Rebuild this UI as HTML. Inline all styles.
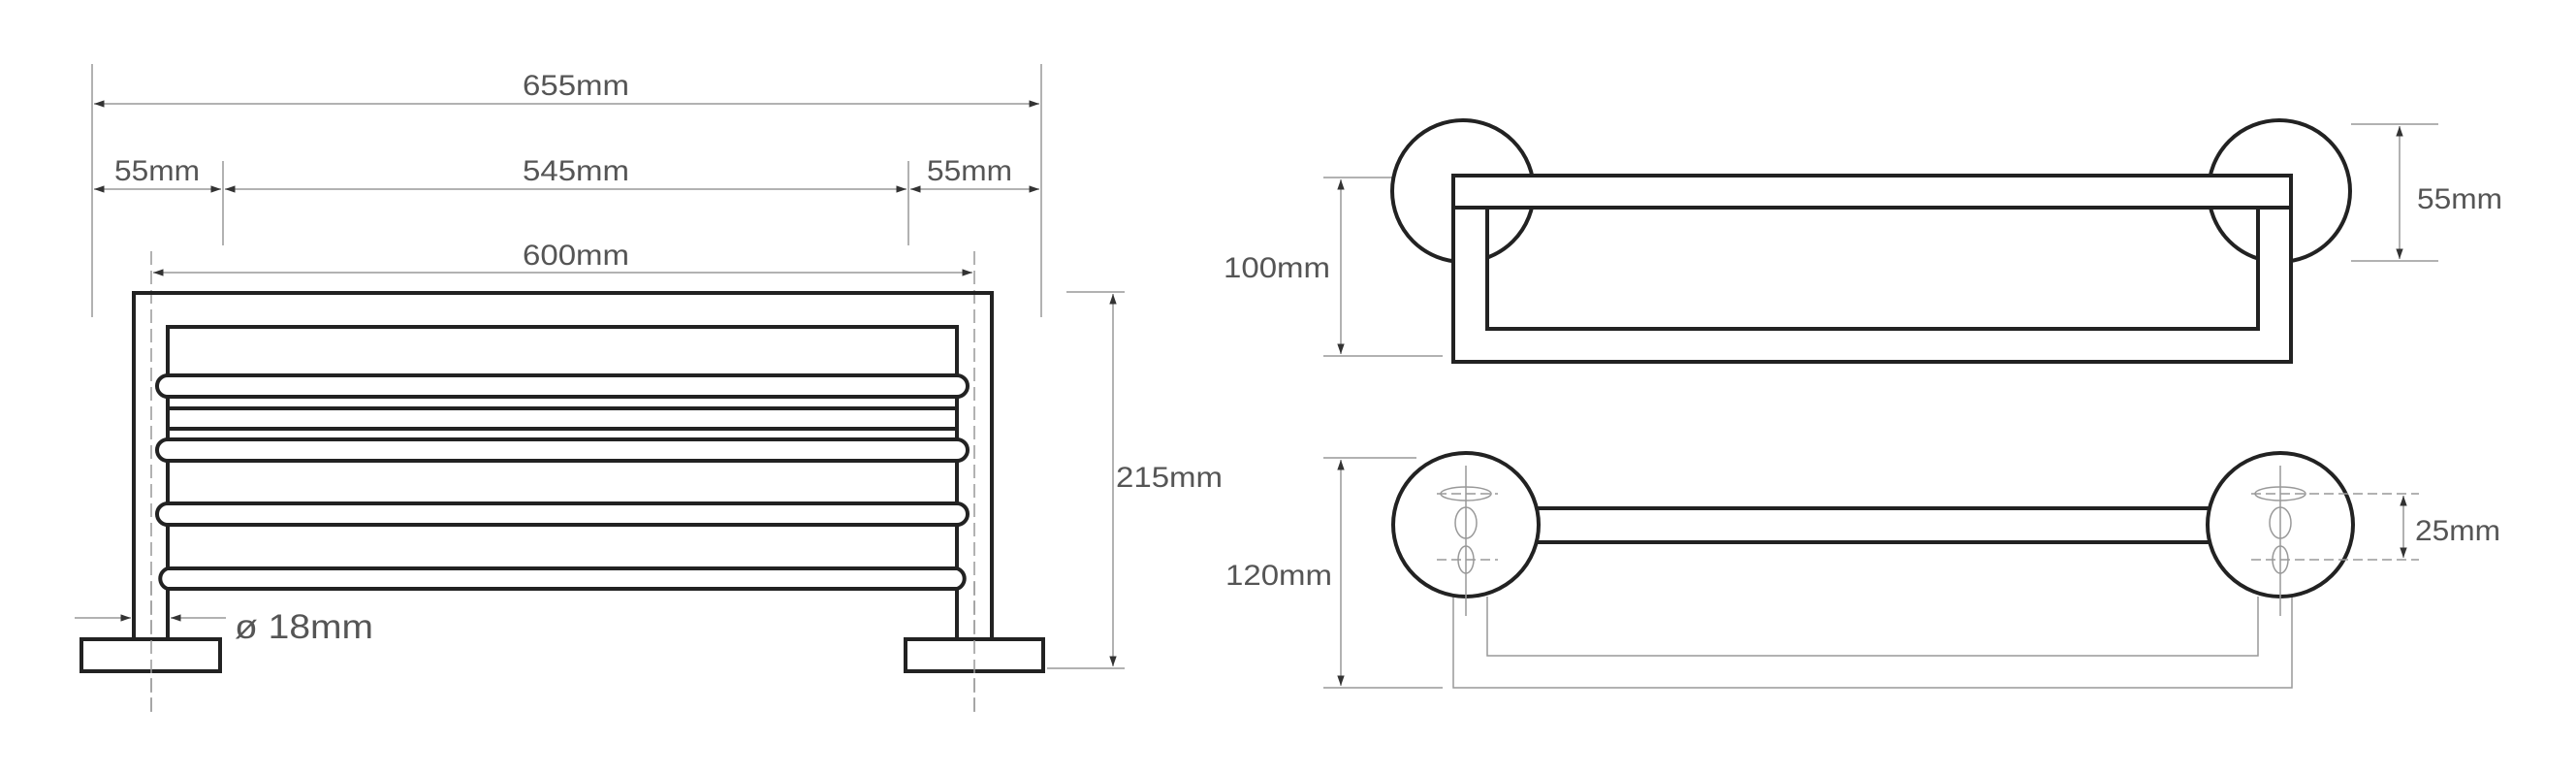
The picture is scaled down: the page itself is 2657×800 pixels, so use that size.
<!DOCTYPE html>
<html><head><meta charset="utf-8"><style>
html,body{margin:0;padding:0;background:#fff}
svg{display:block}
text{font-family:"Liberation Sans",sans-serif;fill:#555}
</style></head><body>
<svg width="2657" height="800" viewBox="0 0 2657 800" xmlns="http://www.w3.org/2000/svg">
<defs>
<marker id="a" viewBox="0 0 10 10" refX="10" refY="5" markerWidth="7" markerHeight="7" orient="auto-start-reverse"><path d="M0,1.5 L10,5 L0,8.5 z" fill="#333"/></marker>
</defs>
<g stroke="#999" stroke-width="1.5" fill="none">
<!-- left view dims -->
<line x1="95" y1="66" x2="95" y2="327"/>
<line x1="1074" y1="66" x2="1074" y2="327"/>
<line x1="230" y1="166" x2="230" y2="253"/>
<line x1="937" y1="166" x2="937" y2="253"/>
<line x1="97" y1="107" x2="1072" y2="107" marker-start="url(#a)" marker-end="url(#a)"/>
<line x1="97" y1="195" x2="228" y2="195" marker-start="url(#a)" marker-end="url(#a)"/>
<line x1="232" y1="195" x2="935" y2="195" marker-start="url(#a)" marker-end="url(#a)"/>
<line x1="939" y1="195" x2="1072" y2="195" marker-start="url(#a)" marker-end="url(#a)"/>
<line x1="158" y1="281" x2="1003" y2="281" marker-start="url(#a)" marker-end="url(#a)"/>
<line x1="156" y1="259" x2="156" y2="737" stroke-dasharray="14,6"/>
<line x1="1005" y1="259" x2="1005" y2="737" stroke-dasharray="14,6"/>
<line x1="1100" y1="301" x2="1160" y2="301"/>
<line x1="1080" y1="689" x2="1160" y2="689"/>
<line x1="1148" y1="303" x2="1148" y2="687" marker-start="url(#a)" marker-end="url(#a)"/>
<line x1="77" y1="637" x2="135" y2="637" marker-end="url(#a)"/>
<line x1="233" y1="637" x2="176" y2="637" marker-end="url(#a)"/>
</g>
<g font-size="30" text-anchor="middle">
<text x="594" y="98" textLength="110" lengthAdjust="spacingAndGlyphs">655mm</text>
<text x="162" y="186" textLength="88" lengthAdjust="spacingAndGlyphs">55mm</text>
<text x="594" y="186" textLength="110" lengthAdjust="spacingAndGlyphs">545mm</text>
<text x="1000" y="186" textLength="88" lengthAdjust="spacingAndGlyphs">55mm</text>
<text x="594" y="273" textLength="110" lengthAdjust="spacingAndGlyphs">600mm</text>
<text x="1206" y="502" textLength="110" lengthAdjust="spacingAndGlyphs">215mm</text>
<text x="1317" y="286" textLength="110" lengthAdjust="spacingAndGlyphs">100mm</text>
<text x="2537" y="215" textLength="88" lengthAdjust="spacingAndGlyphs">55mm</text>
<text x="1319" y="603" textLength="110" lengthAdjust="spacingAndGlyphs">120mm</text>
<text x="2535" y="557" textLength="88" lengthAdjust="spacingAndGlyphs">25mm</text>
</g>
<text x="242" y="658" font-size="35" textLength="143" lengthAdjust="spacingAndGlyphs">ø 18mm</text>

<!-- left front view -->
<g stroke="#222" stroke-width="4" fill="none" stroke-linejoin="miter">
<path d="M138,659 V302 H1023 V659"/>
<path d="M173,659 V337 H987 V659"/>
<rect x="173" y="421" width="814" height="21" fill="#fff"/>
<path d="M173,387 H987 A11,11 0 0 1 987,409 H173 A11,11 0 0 1 173,387 Z" fill="#fff"/>
<path d="M173,453 H987 A11,11 0 0 1 987,475 H173 A11,11 0 0 1 173,453 Z" fill="#fff"/>
<path d="M173,519 H987 A11,11 0 0 1 987,541 H173 A11,11 0 0 1 173,519 Z" fill="#fff"/>
<path d="M173,586 H987 A11,11 0 0 1 987,607 H173 A11,11 0 0 1 173,586 Z" fill="#fff"/>
<rect x="84" y="659" width="143" height="33" fill="#fff"/>
<rect x="934" y="659" width="142" height="33" fill="#fff"/>
</g>
<line x1="156" y1="600" x2="156" y2="737" stroke="#999" stroke-width="1.5" stroke-dasharray="14,6"/>
<line x1="1005" y1="600" x2="1005" y2="737" stroke="#999" stroke-width="1.5" stroke-dasharray="14,6"/>

<!-- right dims -->
<g stroke="#999" stroke-width="1.5" fill="none">
<line x1="1365" y1="183" x2="1440" y2="183"/>
<line x1="1365" y1="367" x2="1488" y2="367"/>
<line x1="1383" y1="185" x2="1383" y2="365" marker-start="url(#a)" marker-end="url(#a)"/>
<line x1="2425" y1="128" x2="2515" y2="128"/>
<line x1="2425" y1="269" x2="2515" y2="269"/>
<line x1="2475" y1="130" x2="2475" y2="267" marker-start="url(#a)" marker-end="url(#a)"/>
<line x1="1365" y1="472" x2="1461" y2="472"/>
<line x1="1365" y1="709" x2="1488" y2="709"/>
<line x1="1383" y1="474" x2="1383" y2="707" marker-start="url(#a)" marker-end="url(#a)"/>
<line x1="2479" y1="511" x2="2479" y2="575" marker-start="url(#a)" marker-end="url(#a)"/>
<path d="M1499,615 V709 H2364 V615"/>
<path d="M1534,615 V676 H2329 V615"/>
</g>

<!-- top view -->
<g stroke="#222" stroke-width="4">
<circle cx="1509" cy="197" r="73" fill="#fff"/>
<circle cx="2351" cy="197" r="73" fill="#fff"/>
<path d="M1499,181 H2363 V373 H1499 Z M1534,214 V339 H2329 V214 Z" fill="#fff" fill-rule="evenodd"/>
<line x1="1499" y1="214" x2="2363" y2="214"/>
</g>

<!-- bottom view -->
<g stroke="#222" stroke-width="4" fill="#fff">
<rect x="1580" y="524" width="704" height="35"/>
<ellipse cx="1512" cy="541" rx="75" ry="74"/>
<ellipse cx="2352" cy="541" rx="75" ry="74"/>
</g>
<g stroke="#999" stroke-width="1.5" fill="none">
<line x1="1512" y1="480" x2="1512" y2="635"/>
<line x1="2352" y1="480" x2="2352" y2="635"/>
<ellipse cx="1512" cy="509" rx="26" ry="7"/>
<ellipse cx="1512" cy="539" rx="11" ry="16"/>
<ellipse cx="1512" cy="577" rx="8" ry="14"/>
<ellipse cx="2352" cy="509" rx="26" ry="7"/>
<ellipse cx="2352" cy="539" rx="11" ry="16"/>
<ellipse cx="2352" cy="577" rx="8" ry="14"/>
<line x1="1482" y1="509" x2="1545" y2="509" stroke-dasharray="10,5"/>
<line x1="1482" y1="577" x2="1545" y2="577" stroke-dasharray="10,5"/>
<line x1="2322" y1="509" x2="2495" y2="509" stroke-dasharray="10,5"/>
<line x1="2322" y1="577" x2="2495" y2="577" stroke-dasharray="10,5"/>
</g>
</svg>
</body></html>
